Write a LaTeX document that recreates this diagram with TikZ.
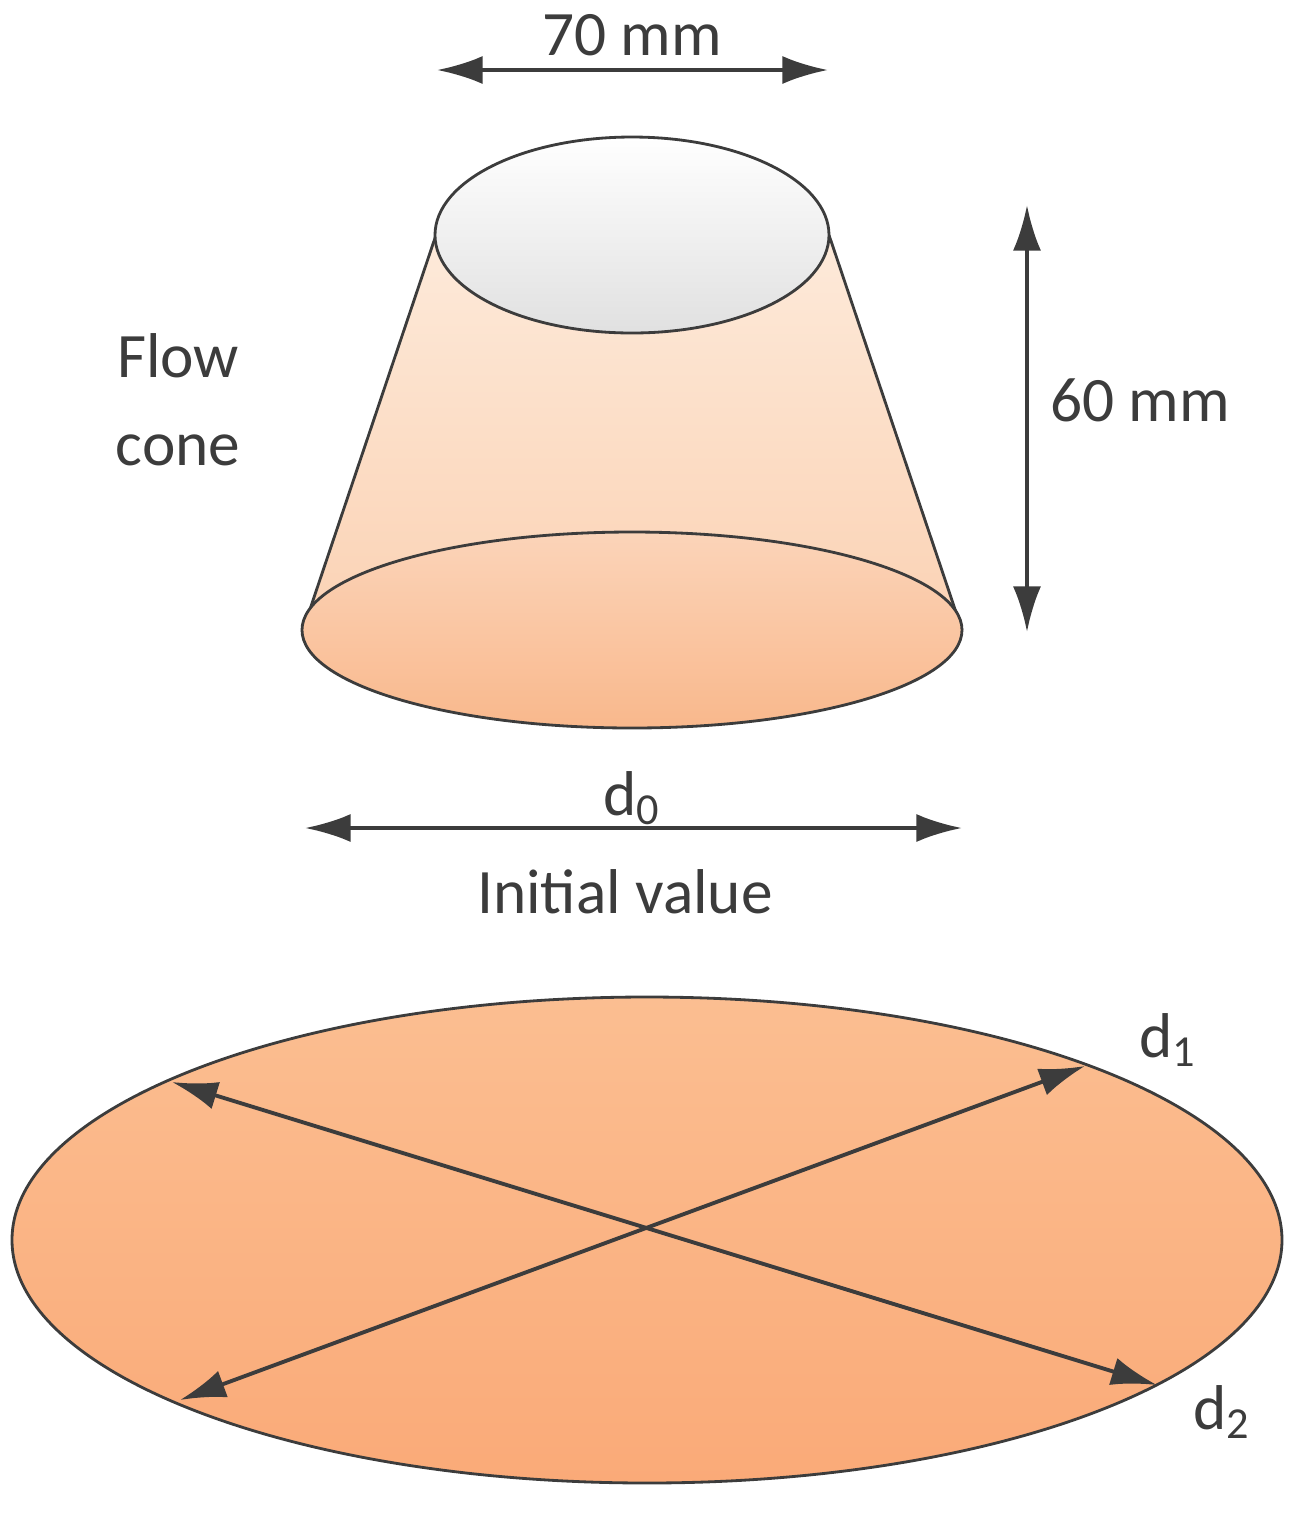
\documentclass[tikz,border=0pt]{standalone}
\usepackage{fontspec}
\setmainfont{Carlito}
\usetikzlibrary{arrows.meta}
\definecolor{ln}{RGB}{60,60,60}
\definecolor{bodyt}{RGB}{253,234,218}
\definecolor{bodyb}{RGB}{251,210,180}
\definecolor{baset}{RGB}{251,212,185}
\definecolor{baseb}{RGB}{249,184,140}
\definecolor{bigt}{RGB}{251,190,145}
\definecolor{bigb}{RGB}{250,170,120}
\tikzset{dim/.style={ln,line width=1.1pt,{Latex[length=13pt,width=8pt]}-{Latex[length=13pt,width=8pt]}},
lbl/.style={font=\fontsize{18}{21}\selectfont,text=ln,inner sep=0pt},
outl/.style={draw=ln,line width=0.8pt}}
\begin{document}
\begin{tikzpicture}[x=0.01cm,y=-0.01cm]
\useasboundingbox (0,0) rectangle (1306,1514);
\shade[top color=bodyt,bottom color=bodyb] (436,235) -- (303,630) arc[start angle=180,end angle=360,x radius=330,y radius=98] -- (829,235) -- cycle;
\draw[outl] (436,235) -- (303,630);
\draw[outl] (829,235) -- (962,630);
\shade[outl,top color=baset,bottom color=baseb] (632,630) ellipse[x radius=330,y radius=98];
\shade[outl,top color=white,bottom color=black!12] (632,235) ellipse[x radius=197,y radius=98];
\shade[outl,top color=bigt,bottom color=bigb] (647,1240) ellipse[x radius=635,y radius=243];
\coordinate (a1) at (172,1082); \coordinate (a2) at (1157,1385);
\coordinate (b1) at (1085,1066); \coordinate (b2) at (180,1400);
\draw[dim] (a1) -- (a2);
\draw[dim] (b1) -- (b2);
\coordinate (t1) at (437,70); \coordinate (t2) at (828,70);
\draw[dim] (t1) -- (t2);
\coordinate (v1) at (1027,205); \coordinate (v2) at (1027,632);
\draw[dim] (v1) -- (v2);
\coordinate (h1) at (305,828); \coordinate (h2) at (962,828);
\draw[dim] (h1) -- (h2);
\node[lbl] (l70) at (632,35) {70 mm};
\node[lbl] (l60) at (1140,400) {60 mm};
\node[lbl] (ld0) at (632,798) {d\textsubscript{0}};
\node[lbl] (liv) at (625,892) {Initial value};
\node[lbl,align=center] (lfc) at (178,400) {Flow\\[4pt]cone};
\node[lbl] (ld1) at (1168,1040) {d\textsubscript{1}};
\node[lbl] (ld2) at (1222,1412) {d\textsubscript{2}};
\end{tikzpicture}
\end{document}
